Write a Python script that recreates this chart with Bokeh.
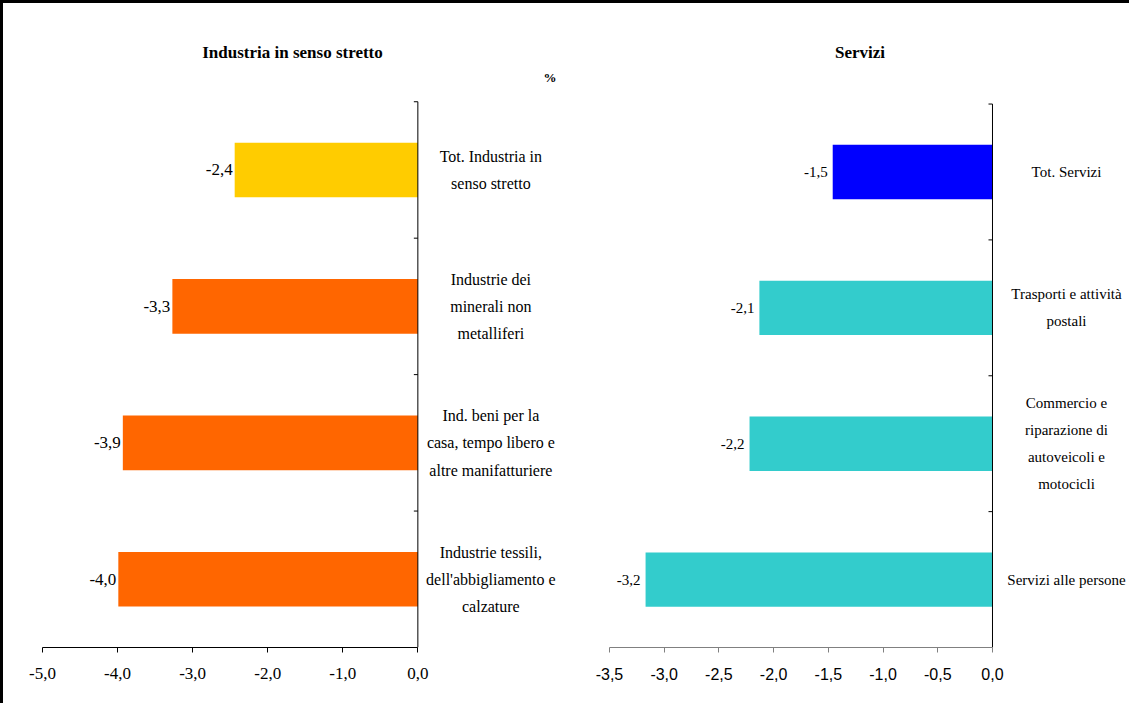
import numpy as np
from bokeh.plotting import figure
from bokeh.models import Range1d, FixedTicker, CustomJSTickFormatter, ColumnDataSource, LinearAxis
from bokeh.layouts import row
from bokeh.core.properties import value
from bokeh.embed import file_html
from bokeh.resources import INLINE

# ---------------- data ----------------
ind_title = "Industria in senso stretto"
ind_categories = [
    "Tot. Industria in\nsenso stretto",
    "Industrie dei\nminerali non\nmetalliferi",
    "Ind. beni per la\ncasa, tempo libero e\naltre manifatturiere",
    "Industrie tessili,\ndell'abbigliamento e\ncalzature",
]
ind_values = [-2.44, -3.27, -3.93, -3.99]
ind_colors = ["#FFCC00", "#FF6600", "#FF6600", "#FF6600"]
ind_ticks = [-5.0, -4.0, -3.0, -2.0, -1.0, 0.0]

srv_title = "Servizi"
srv_categories = [
    "Tot. Servizi",
    "Trasporti e attività\npostali",
    "Commercio e\nriparazione di\nautoveicoli e\nmotocicli",
    "Servizi alle persone",
]
srv_values = [-1.46, -2.13, -2.22, -3.17]
srv_colors = ["#0000FF", "#33CCCC", "#33CCCC", "#33CCCC"]
srv_ticks = [-3.5, -3.0, -2.5, -2.0, -1.5, -1.0, -0.5, 0.0]

unit_text = "%"

SERIF = "Liberation Serif"
SANS = "Liberation Sans"


def fmt(v):
    return ("%.1f" % v).replace(".", ",")


def panel(title, cats, vals, colors, ticks, width, height, x_range, y_top,
          min_left, min_bottom, val_size, val_off, lab_off, lab_size, lab_lh,
          tick_font, tick_size, axis_color, title_x, title_y):
    n = len(cats)
    pos = [n - 0.5 - i for i in range(n)]
    p = figure(width=width, height=height, x_range=x_range, y_range=Range1d(0, y_top),
               output_backend="svg", toolbar_location=None,
               x_axis_type=None, y_axis_type=None,
               min_border_left=min_left, min_border_right=0,
               min_border_top=0, min_border_bottom=min_bottom)
    p.outline_line_color = None
    p.grid.visible = False
    p.background_fill_color = "white"
    p.border_fill_color = "white"

    src = ColumnDataSource(dict(y=pos, v=vals, c=colors, cat=cats,
                                lab=[fmt(v) for v in vals]))
    p.hbar(y="y", left="v", right=0, height=0.4, fill_color="c",
           line_color=None, source=src)

    # vertical axis line and boundary ticks
    p.segment(x0=[0], y0=[0], x1=[0], y1=[n], line_color="black", line_width=1)
    p.ray(x=0, y=list(range(n + 1)), length=4, length_units="screen",
          angle=np.pi, line_color="black", line_width=1)

    # value labels
    p.text(x="v", y="y", text="lab", source=src, x_offset=val_off,
           text_align="right", text_baseline="middle",
           text_font=value(SERIF), text_font_size=value(val_size), text_color="black")

    # category labels
    p.text(x=0, y="y", text="cat", source=src, x_offset=lab_off,
           text_align="center", text_baseline="middle",
           text_font=value(SERIF), text_font_size=value(lab_size),
           text_line_height=lab_lh, text_color="black")

    # panel title
    p.text(x=[title_x], y=[title_y], text=[title], text_align="center",
           text_baseline="middle", text_font=value(SERIF), text_font_style="bold",
           text_font_size=value("17px"), text_color="black")

    ax = LinearAxis(ticker=FixedTicker(ticks=ticks),
                    formatter=CustomJSTickFormatter(code="return tick.toFixed(1).replace('.', ',');"),
                    bounds=(ticks[0], ticks[-1]))
    ax.axis_line_color = axis_color
    ax.major_tick_line_color = axis_color
    ax.major_tick_out = 5
    ax.major_tick_in = 0
    ax.minor_tick_line_color = None
    ax.major_label_text_font = tick_font
    ax.major_label_text_font_size = tick_size
    ax.major_label_text_color = "black"
    ax.major_label_standoff = 15
    p.add_layout(ax, "below")
    return p


H = 700
left = panel(ind_title, ind_categories, ind_values, ind_colors, ind_ticks,
             width=572, height=H, x_range=Range1d(-5.0, 2.1), y_top=4.72,
             min_left=39, min_bottom=52,
             val_size="17px", val_off=-2, lab_off=73, lab_size="16px", lab_lh=1.6,
             tick_font=SERIF, tick_size="17px", axis_color="black",
             title_x=-1.67, title_y=4.36)
left.text(x=[1.76], y=[4.18], text=[unit_text], text_align="center",
          text_baseline="middle", text_font=value(SERIF), text_font_style="bold",
          text_font_size=value("13px"), text_color="black")

right = panel(srv_title, srv_categories, srv_values, srv_colors, srv_ticks,
              width=554, height=H, x_range=Range1d(-3.655, 1.252), y_top=4.74,
              min_left=17, min_bottom=56,
              val_size="15px", val_off=-5, lab_off=74, lab_size="15px", lab_lh=1.7,
              tick_font=SANS, tick_size="16px", axis_color="#808080",
              title_x=-1.21, title_y=4.38)

layout = row(left, right, styles={"border-top": "3px solid black",
                                  "border-left": "3px solid black"})

open("out.html", "w").write(file_html(layout, INLINE))
